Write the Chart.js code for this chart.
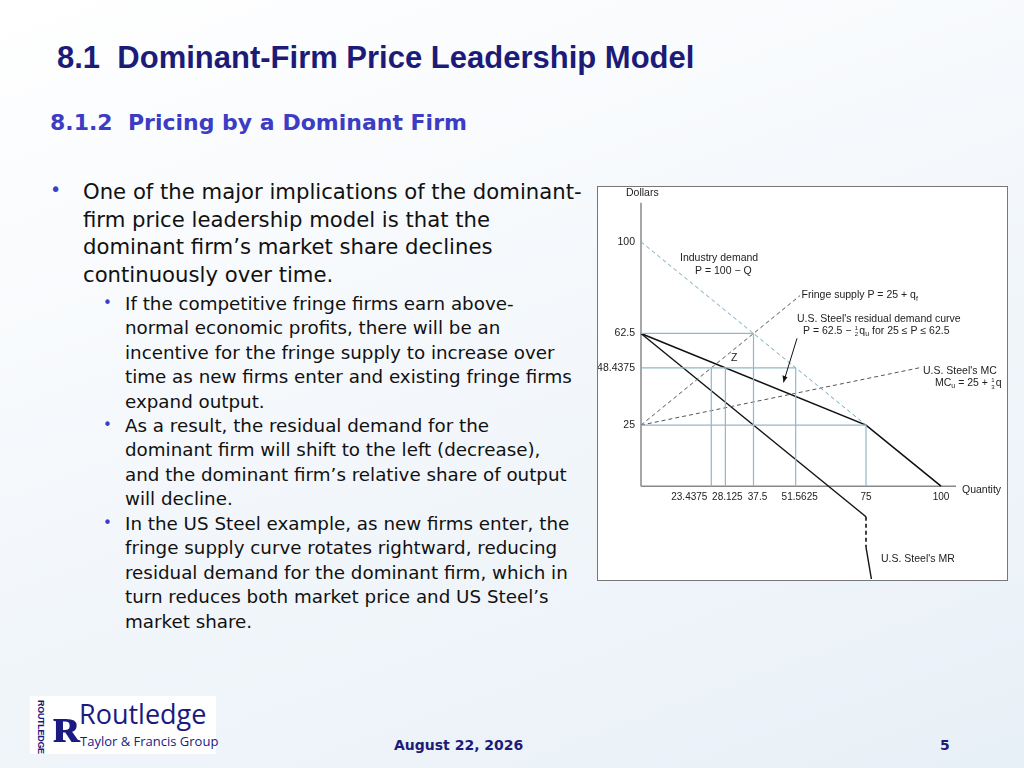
<!DOCTYPE html>
<html><head><meta charset="utf-8">
<script src="https://cdn.jsdelivr.net/npm/chart.js@4"></script>
<style>
body{margin:0;width:1024px;height:768px;overflow:hidden;background:linear-gradient(160deg,#ffffff 0%,#f3f7fb 50%,#e8f0f7 100%);font-family:"DejaVu Sans",sans-serif;position:relative}
#t{position:absolute;left:57px;top:40px;font:bold 31px "Liberation Sans",Arial,sans-serif;color:#1c1c78}
#st{position:absolute;left:50px;top:110px;font:bold 22px "DejaVu Sans";color:#3c3cc4}
.b{position:absolute;color:#111;white-space:nowrap}
#box{position:absolute;left:597px;top:186px;width:409px;height:393px;border:1px solid #777;background:#fff}
#c{position:absolute;left:598px;top:187px}
</style></head><body>
<div id="t">8.1&nbsp; Dominant-Firm Price Leadership Model</div>
<div id="st">8.1.2&nbsp; Pricing by a Dominant Firm</div>
<div class="b" style="left:50px;top:178px;font-size:19px;color:#3c3cc4">•</div>
<div class="b" style="left:83px;top:178px;font-size:21.2px;line-height:27.5px">One of the major implications of the dominant-<br>firm price leadership model is that the<br>dominant firm’s market share declines<br>continuously over time.</div>
<div class="b" style="left:103px;top:294px;font-size:15px;color:#3c3cc4">•</div>
<div class="b" style="left:125px;top:292px;font-size:18.3px;line-height:24.4px">If the competitive fringe firms earn above-<br>normal economic profits, there will be an<br>incentive for the fringe supply to increase over<br>time as new firms enter and existing fringe firms<br>expand output.</div>
<div class="b" style="left:103px;top:416px;font-size:15px;color:#3c3cc4">•</div>
<div class="b" style="left:125px;top:414px;font-size:18.3px;line-height:24.4px">As a result, the residual demand for the<br>dominant firm will shift to the left (decrease),<br>and the dominant firm’s relative share of output<br>will decline.</div>
<div class="b" style="left:103px;top:514px;font-size:15px;color:#3c3cc4">•</div>
<div class="b" style="left:125px;top:512px;font-size:18.3px;line-height:24.4px">In the US Steel example, as new firms enter, the<br>fringe supply curve rotates rightward, reducing<br>residual demand for the dominant firm, which in<br>turn reduces both market price and US Steel’s<br>market share.</div>
<div id="box"></div>
<canvas id="c" width="408" height="392" style="width:408px;height:392px"></canvas>
<div style="position:absolute;left:30px;top:696px;width:186px;height:58px;background:#fff"></div>
<div style="position:absolute;transform:rotate(90deg);transform-origin:left top;font:bold 9px 'Liberation Sans';color:#1a1a80;left:46px;top:700px;letter-spacing:-0.3px">ROUTLEDGE</div>
<div style="position:absolute;left:52px;top:700px;font:bold 50px 'Liberation Serif';color:#1a1a80;line-height:50px">ʀ</div>
<div style="position:absolute;left:79px;top:699px;font:27px 'Open Sans';color:#1a1a80;line-height:30px">Routledge</div>
<div style="position:absolute;left:80px;top:732px;font:13px 'Open Sans';color:#1a1a80">Taylor &amp; Francis Group</div>
<div style="position:absolute;left:394px;top:737px;font:bold 14px 'DejaVu Sans';color:#1c1c78">August 22, 2026</div>
<div style="position:absolute;left:940px;top:737px;font:bold 14px 'DejaVu Sans';color:#1c1c78">5</div>
<script>
const yTicks=[100,62.5,48.4375,25];
const xTicks=[23.4375,28.125,37.5,51.5625,75,100];
const axisY=[{x:0,y:0},{x:0,y:116}];
const axisX=[{x:0,y:0},{x:105,y:0}];
const industryDemand=[{x:0,y:100},{x:75,y:25}];
const fringeSupply=[{x:0,y:25},{x:53,y:78}];
const mcUS=[{x:0,y:25},{x:93,y:48.5}];
const residualDemand=[{x:0,y:62.5},{x:75,y:25},{x:100,y:0}];
const mrSolid=[{x:0,y:62.5},{x:75,y:-12.5}];
const mrDash=[{x:75,y:-12.5},{x:75,y:-25}];
const mrLow=[{x:75,y:-25},{x:76.8,y:-38}];
const guides=[
 [{x:0,y:62.5},{x:37.5,y:62.5}],[{x:37.5,y:0},{x:37.5,y:62.5}],
 [{x:0,y:48.4375},{x:51.5625,y:48.4375}],[{x:23.4375,y:0},{x:23.4375,y:48.4375}],
 [{x:28.125,y:0},{x:28.125,y:48.4375}],[{x:51.5625,y:0},{x:51.5625,y:48.4375}],
 [{x:0,y:25},{x:75,y:25}],[{x:75,y:0},{x:75,y:25}]];
const ds=[];
guides.forEach(g=>ds.push({data:g,borderColor:'#8fb8cc',borderWidth:1.2}));
ds.push({data:industryDemand,borderColor:'#6fa8b8',borderWidth:1,borderDash:[4,3]});
ds.push({data:fringeSupply,borderColor:'#555',borderWidth:1,borderDash:[4,3]});
ds.push({data:mcUS,borderColor:'#555',borderWidth:1,borderDash:[4,3]});
ds.push({data:residualDemand,borderColor:'#111',borderWidth:1.6});
ds.push({data:mrSolid,borderColor:'#111',borderWidth:1.4});
ds.push({data:mrDash,borderColor:'#111',borderWidth:1.6,borderDash:[4,3]});
ds.push({data:mrLow,borderColor:'#111',borderWidth:1.4});
ds.push({data:axisY,borderColor:'#888',borderWidth:1.5});
ds.push({data:axisX,borderColor:'#888',borderWidth:1.5});
ds.forEach(d=>{d.pointRadius=0;d.fill=false;d.tension=0;});
const FF='"Liberation Sans", Arial, sans-serif';
const labels={id:'labels',afterDraw(ch){
 const c=ch.ctx,X=ch.scales.x,Y=ch.scales.y;c.save();c.fillStyle='#222';
 const run=(parts,x,y)=>{let px=X.getPixelForValue(x),py=Y.getPixelForValue(y);c.textAlign='left';c.textBaseline='middle';
  parts.forEach(p=>{const k=p[1]||'n';
   if(k==='n'){c.font='10.5px '+FF;c.fillText(p[0],px,py);px+=c.measureText(p[0]).width;}
   else if(k==='s'){c.font='7px '+FF;c.fillText(p[0],px,py+3);px+=c.measureText(p[0]).width;}
   else {const [a,b]=p[0].split('/');c.font='6px '+FF;c.fillText(a,px+0.5,py-3);c.fillText(b,px+0.5,py+3.5);px+=5;}});};
 c.font='10.5px '+FF;c.textAlign='right';c.textBaseline='middle';
 yTicks.forEach(v=>c.fillText(String(v),X.getPixelForValue(0)-6,Y.getPixelForValue(v)));
 const off={23.4375:-22,28.125:2,37.5:4,51.5625:4,75:0,100:0};
 c.textAlign='center';c.textBaseline='top';c.font='10px '+FF;
 xTicks.forEach(v=>c.fillText(String(v),X.getPixelForValue(v)+off[v],Y.getPixelForValue(0)+6));
 run([['Dollars']],-5,120);
 run([['Quantity']],107,-1.5);
 run([['Industry demand']],13,93.5);run([['P = 100 − Q']],18,88);
 run([['Fringe supply P = 25 + q'],['f','s']],53.5,78);
 run([["U.S. Steel's residual demand curve"]],52,68.5);
 run([['P = 62.5 − '],['1/2','f'],['q'],['u','s'],[' for 25 ≤ P ≤ 62.5']],54,63.5);
 run([['Z']],30,52.5);
 run([["U.S. Steel's MC"]],94,47);
 run([['MC'],['u','s'],[' = 25 + '],['1/3','f'],['q']],98,42);
 run([["U.S. Steel's MR"]],80,-30);
 c.strokeStyle='#111';c.lineWidth=1;c.beginPath();
 const ax=X.getPixelForValue(52),ay=Y.getPixelForValue(60.5),bx=X.getPixelForValue(47.5),by=Y.getPixelForValue(42.5);
 c.moveTo(ax,ay);c.lineTo(bx,by);c.stroke();
 c.beginPath();c.moveTo(bx,by);c.lineTo(bx-1,by-7);c.lineTo(bx+4,by-5);c.closePath();c.fillStyle='#111';c.fill();
 c.restore();}};
new Chart(document.getElementById('c'),{type:'line',data:{datasets:ds},plugins:[labels],
 options:{responsive:false,animation:false,clip:false,layout:{padding:{left:43,right:50,top:6,bottom:0}},
 plugins:{legend:{display:false},tooltip:{enabled:false}},
 scales:{x:{type:'linear',min:0,max:105,display:false},y:{type:'linear',min:-38,max:120,display:false}}}});
</script></body></html>
